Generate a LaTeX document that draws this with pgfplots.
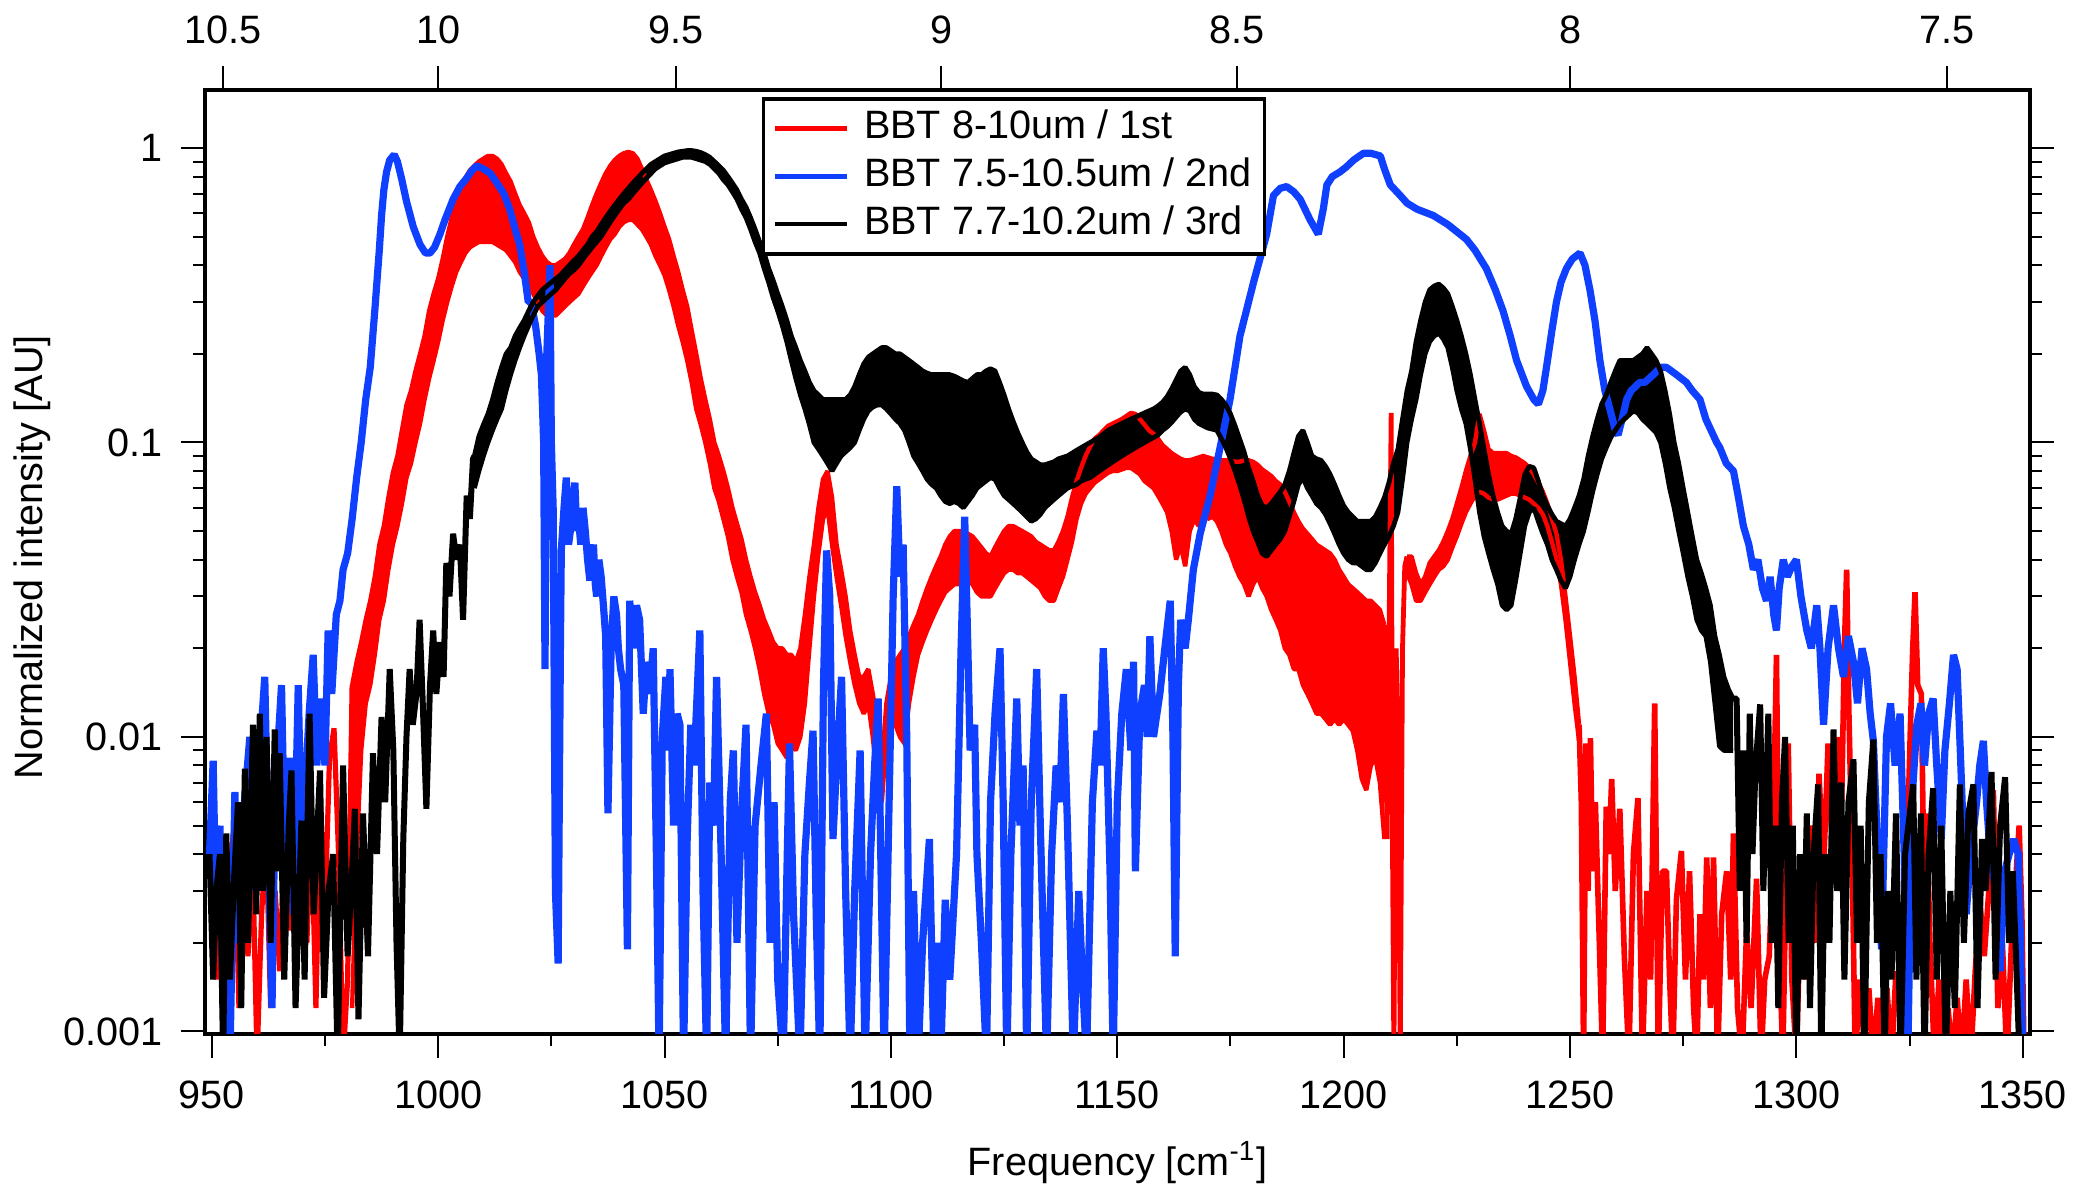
\documentclass[border=0pt]{standalone}
\usepackage{fontspec}
\setmainfont{Liberation Sans}
\usepackage{pgfplots}
\usepackage{pgfplotstable}
\pgfplotsset{compat=1.18}
\usepgfplotslibrary{fillbetween}
\definecolor{igred}{RGB}{255,0,0}
\definecolor{igblue}{RGB}{16,64,255}
\newcommand\fs{\fontsize{9.9bp}{11.5bp}\selectfont}

\pgfplotstableread{
x y
949.5 0.004
950.3 0.0077
951 0.0015
952 0.003
953 0.0008
954 0.0035
955 0.0052
956 0.0012
957 0.003
958 0.0018
959 0.004
960 0.0008
961 0.0025
962 0.0045
963 0.0012
964 0.003
965 0.0016
966 0.004
967 0.0022
968 0.008
969 0.0025
970 0.0078
971 0.002
972 0.005
973 0.0012
974 0.006
975 0.0025
976 0.0085
977 0.0107
978 0.004
979 0.0008
980 0.0015
981 0.015
}\redA

\pgfplotstableread{
x U L
981 0.015 0.0012
982 0.018 0.004
983 0.021 0.009
984 0.025 0.013
985 0.029 0.015
986 0.035 0.019
987 0.045 0.025
988 0.052 0.029
989 0.065 0.037
990 0.079 0.045
991 0.09 0.052
992 0.11 0.062
993 0.134 0.076
994 0.15 0.085
995 0.175 0.1
996 0.2 0.116
997 0.23 0.14
998 0.28 0.165
999 0.32 0.19
1000 0.36 0.22
1001 0.42 0.26
1002 0.5 0.3
1003 0.58 0.34
1004 0.66 0.38
1005 0.74 0.41
1006 0.79 0.44
1007 0.84 0.46
1008 0.87 0.47
1009 0.9 0.48
1010 0.92 0.48
1011 0.94 0.48
1012 0.94 0.48
1013 0.92 0.47
1014 0.88 0.46
1015 0.82 0.45
1016 0.77 0.43
1017 0.7 0.41
1018 0.64 0.38
1019 0.6 0.36
1020 0.56 0.34
1021 0.5 0.32
1022 0.46 0.3
1023 0.43 0.28
1024 0.41 0.27
1025 0.4 0.27
1026 0.4 0.27
1027 0.41 0.28
1028 0.42 0.29
1029 0.44 0.3
1030 0.47 0.31
1031 0.5 0.32
1032 0.53 0.34
1033 0.58 0.36
1034 0.64 0.38
1035 0.7 0.4
1036 0.76 0.43
1037 0.82 0.46
1038 0.87 0.49
1039 0.91 0.51
1040 0.94 0.54
1041 0.96 0.56
1042 0.97 0.57
1043 0.96 0.57
1044 0.92 0.55
1045 0.85 0.53
1046 0.78 0.5
1047 0.72 0.47
1048 0.66 0.43
1049 0.6 0.4
1050 0.54 0.37
1051 0.49 0.33
1052 0.43 0.29
1053 0.38 0.25
1054 0.33 0.22
1055 0.29 0.19
1056 0.24 0.16
1057 0.2 0.13
1058 0.165 0.115
1059 0.14 0.1
1060 0.12 0.085
1061 0.1 0.07
1062 0.09 0.063
1063 0.08 0.055
1064 0.07 0.048
1065 0.06 0.04
1066 0.053 0.035
1067 0.047 0.031
1068 0.04 0.026
1069 0.035 0.023
1070 0.031 0.02
1071 0.028 0.017
1072 0.025 0.014
1073 0.023 0.012
1074 0.021 0.011
1075 0.02 0.0095
1076 0.02 0.009
1077 0.019 0.0085
1078 0.019 0.0095
1079 0.018 0.009
1080 0.02 0.01
1081 0.026 0.013
1082 0.035 0.02
1083 0.045 0.03
1084 0.06 0.042
1085 0.075 0.055
1086 0.08 0.06
1087 0.065 0.045
1088 0.045 0.035
1089 0.037 0.028
1090 0.03 0.022
1091 0.023 0.018
1092 0.019 0.015
1093 0.016 0.013
1094 0.016 0.012
1095 0.017 0.013
1096 0.014 0.01
1097 0.011 0.007
1098 0.008 0.006
1099 0.013 0.01
1100 0.016 0.011
1101 0.018 0.011
1102 0.019 0.010
1103 0.02 0.0095
1104 0.022 0.013
1105 0.024 0.016
1106 0.026 0.019
1107 0.029 0.021
1108 0.032 0.023
1109 0.035 0.025
1110 0.038 0.027
1111 0.041 0.029
1112 0.045 0.031
1113 0.048 0.032
1114 0.05 0.033
1115 0.05 0.033
1116 0.05 0.034
1117 0.049 0.034
1118 0.048 0.033
1119 0.046 0.031
1120 0.044 0.03
1121 0.042 0.03
1122 0.041 0.03
1123 0.044 0.032
1124 0.047 0.034
1125 0.05 0.036
1126 0.052 0.037
1127 0.052 0.037
1128 0.051 0.036
1129 0.05 0.036
1130 0.049 0.035
1131 0.048 0.034
1132 0.046 0.033
1133 0.045 0.032
1134 0.044 0.03
1135 0.043 0.029
1136 0.043 0.029
1137 0.046 0.032
1138 0.05 0.035
1139 0.056 0.04
1140 0.065 0.046
1141 0.074 0.055
1142 0.082 0.062
1143 0.09 0.067
1144 0.097 0.07
1145 0.103 0.073
1146 0.106 0.075
1147 0.11 0.077
1148 0.114 0.079
1149 0.116 0.08
1150 0.118 0.08
1151 0.12 0.081
1152 0.123 0.082
1153 0.126 0.082
1154 0.125 0.08
1155 0.12 0.078
1156 0.115 0.074
1157 0.11 0.072
1158 0.107 0.07
1159 0.103 0.066
1160 0.098 0.062
1161 0.095 0.058
1162 0.092 0.05
1163 0.09 0.04
1164 0.088 0.045
1165 0.087 0.038
1166 0.087 0.05
1167 0.088 0.055
1168 0.089 0.052
1169 0.09 0.058
1170 0.089 0.055
1171 0.088 0.056
1172 0.088 0.054
1173 0.087 0.05
1174 0.087 0.045
1175 0.087 0.042
1176 0.086 0.038
1177 0.086 0.035
1178 0.087 0.033
1179 0.087 0.03
1180 0.086 0.033
1181 0.084 0.035
1182 0.081 0.032
1183 0.079 0.03
1184 0.077 0.027
1185 0.074 0.025
1186 0.072 0.023
1187 0.068 0.02
1188 0.063 0.019
1189 0.058 0.017
1190 0.054 0.017
1191 0.051 0.015
1192 0.049 0.014
1193 0.047 0.013
1194 0.045 0.012
1195 0.044 0.012
1196 0.043 0.0115
1197 0.042 0.011
1198 0.04 0.0115
1199 0.037 0.011
1200 0.035 0.0115
1201 0.033 0.011
1202 0.032 0.0105
1203 0.031 0.009
1204 0.03 0.0072
1205 0.029 0.0066
1206 0.029 0.008
1207 0.028 0.0085
1208 0.027 0.007
1209 0.024 0.0045
}\redbandA

\pgfplotstableread{
x y
1209 0.024
1209.6 0.0045
1210 0.02
1210.5 0.126
1210.8 0.004
1211.1 0.0008
1211.6 0.02
1212.1 0.008
1212.5 0.0008
1213 0.02
1213.5 0.038
1214 0.041
}\redB

\pgfplotstableread{
x U L
1214 0.041 0.036
1215 0.041 0.033
1216 0.036 0.029
1217 0.033 0.029
1218 0.035 0.031
1219 0.039 0.033
1220 0.041 0.035
1221 0.043 0.037
1222 0.046 0.038
1223 0.05 0.04
1224 0.055 0.044
1225 0.062 0.048
1226 0.07 0.053
1227 0.08 0.058
1228 0.09 0.062
1229 0.1 0.066
1230 0.125 0.068
1231 0.11 0.067
1232 0.095 0.065
1233 0.092 0.064
1234 0.092 0.064
1235 0.092 0.065
1236 0.092 0.066
1237 0.09 0.067
1238 0.089 0.067
1239 0.087 0.066
1240 0.085 0.065
1241 0.082 0.064
1242 0.078 0.062
1243 0.073 0.06
1244 0.068 0.057
1245 0.062 0.052
1246 0.055 0.046
1247 0.049 0.04
1248 0.04 0.033
1249 0.03 0.025
1250 0.022 0.018
1251 0.016 0.013
1252 0.011 0.0097
}\redbandB

\pgfplotstableread{
x y
1252 0.011
1252.5 0.006
1253 0.0008
1253.5 0.0095
1254 0.003
1254.5 0.0099
1255 0.0035
1255.6 0.006
1256.3 0.0025
1257.2 0.0008
1258 0.0058
1258.6 0.004
1259.2 0.0072
1260 0.003
1261 0.0057
1262 0.0018
1263 0.0008
1264 0.004
1265 0.0062
1266 0.0008
1267 0.003
1267.8 0.0015
1268.7 0.013
1269.5 0.0008
1270.4 0.0035
1271.3 0.0035
1272 0.0015
1272.7 0.0008
1273.5 0.0028
1274.6 0.0041
1275.5 0.0015
1276.4 0.0035
1277.3 0.0012
1278 0.0008
1278.7 0.0025
1279.5 0.0015
1280.2 0.0039
1281 0.0012
1281.7 0.0039
1282.6 0.0008
1283.5 0.0025
1284.6 0.0035
1285.5 0.0015
1286.1 0.0047
1287 0.0012
1288 0.0008
1289 0.0022
1290 0.0012
1291.2 0.0033
1292.2 0.0008
1293 0.0015
1294 0.0018
1294.8 0.004
1295.6 0.019
1296.2 0.002
1297 0.0008
1298.2 0.0095
1299 0.0015
1300 0.0008
1301 0.003
1302 0.0015
1303 0.005
1304 0.002
1305 0.0075
1306 0.0035
1307 0.0095
1308 0.004
1309 0.01
1310 0.006
1310.6 0.02
1311.1 0.037
1311.6 0.012
1312.3 0.004
1313 0.0008
1314 0.0015
1315 0.0009
1316 0.0014
1317 0.0008
1318 0.0013
1319 0.0008
1320 0.0014
1321 0.0008
1322 0.0016
1323 0.0011
1324 0.0022
1324.6 0.005
1325.2 0.011
1325.7 0.02
1326.2 0.031
1326.8 0.015
1327.6 0.014
1328.2 0.003
1328.8 0.0055
1329.5 0.002
1330.5 0.0008
1331.5 0.0015
1332.5 0.0008
1333.5 0.0012
1334.5 0.0008
1335.5 0.0013
1336.5 0.0008
1337.5 0.0015
1338.5 0.0008
1339.5 0.0016
1340.5 0.0028
1341.5 0.0018
1342.5 0.003
1343.5 0.0066
1344.5 0.0012
1345.5 0.002
1346.5 0.0008
1347.5 0.002
1348.3 0.003
1349.2 0.005
1349.8 0.0025
1350.3 0.0008
}\redC

\pgfplotstableread{
x y
949.5 0.004
950.3 0.0083
951 0.0022
951.8 0.005
952.5 0.0012
953.3 0.0035
954 0.0008
955.1 0.0065
956 0.002
957 0.0055
958.4 0.01
959.2 0.003
960 0.0065
961.7 0.016
962.5 0.004
963.3 0.0012
964 0.0065
965.4 0.015
966.3 0.003
967.2 0.0085
968 0.0025
969.1 0.015
970 0.003
970.8 0.0075
971.5 0.012
972.4 0.019
973.2 0.008
974 0.0135
975 0.008
975.7 0.023
976.5 0.014
977.5 0.026
978.3 0.029
979 0.037
980 0.042
981 0.055
982 0.076
983 0.1
984 0.14
985 0.18
986 0.28
987 0.45
987.5 0.59
988 0.72
988.6 0.83
989.3 0.91
990.3 0.95
991 0.9
991.9 0.79
993 0.66
994.5 0.54
996 0.47
997.2 0.44
998.2 0.44
999.2 0.46
1000.4 0.51
1001.5 0.57
1003.3 0.67
1004.8 0.74
1006.3 0.79
1007.5 0.84
1008.5 0.87
1010 0.85
1011.5 0.82
1013 0.76
1014.5 0.7
1015.8 0.62
1017 0.53
1018 0.47
1019 0.38
1019.9 0.3
1020.5 0.3
1021.5 0.25
1022.3 0.2
1022.8 0.17
1023.3 0.1
1023.6 0.017
1024 0.2
1024.7 0.40
1025 0.1
1025.4 0.06
1025.9 0.003
1026.5 0.0017
1027 0.02
1027.2 0.043
1027.8 0.06
1028.3 0.076
1028.8 0.045
1029.2 0.05
1029.7 0.065
1030.2 0.073
1030.6 0.05
1031 0.055
1031.5 0.045
1032 0.06
1032.5 0.05
1033 0.04
1033.5 0.034
1034 0.042
1034.3 0.045
1034.7 0.033
1035 0.03
1035.5 0.04
1036 0.035
1036.5 0.028
1037 0.022
1037.5 0.0055
1038.2 0.02
1038.8 0.03
1039.4 0.026
1039.8 0.02
1040.3 0.017
1041 0.015
1041.8 0.0019
1042.3 0.029
1042.8 0.024
1043.2 0.02
1043.8 0.028
1044.5 0.025
1045.3 0.012
1046 0.018
1046.7 0.014
1047.5 0.02
1048.2 0.004
1048.8 0.0008
1049.5 0.01
1050.3 0.016
1050.8 0.009
1051.2 0.017
1052 0.005
1052.8 0.012
1053.4 0.011
1054.2 0.0008
1055 0.0045
1055.8 0.011
1056.5 0.008
1057.2 0.014
1057.8 0.023
1058.5 0.003
1059.3 0.0008
1060 0.007
1060.8 0.005
1061.5 0.016
1062.5 0.004
1063.5 0.0008
1064.5 0.006
1065.2 0.009
1066 0.002
1067 0.0055
1068 0.011
1069 0.0008
1070 0.005
1071.3 0.008
1072.5 0.012
1073.3 0.002
1074.2 0.006
1075 0.0015
1076.2 0.0008
1077.6 0.0095
1078.5 0.0025
1079.9 0.0008
1081 0.004
1082 0.007
1082.8 0.0105
1083.5 0.0025
1084.3 0.0008
1085.1 0.015
1085.8 0.043
1086.5 0.03
1087.2 0.0045
1088 0.008
1089.1 0.016
1090 0.003
1091 0.0008
1092 0.003
1093.2 0.009
1094.3 0.0008
1095.5 0.004
1096.4 0.008
1097.2 0.0135
1098.5 0.0008
1099.5 0.005
1100.5 0.03
1101.3 0.071
1102 0.035
1102.7 0.045
1103.5 0.01
1104.2 0.0008
1105 0.003
1106 0.0008
1107 0.002
1108.5 0.0045
1109.5 0.0008
1110.5 0.002
1111 0.0008
1112 0.0028
1113 0.0015
1114.5 0.004
1115.5 0.02
1116.3 0.056
1117 0.02
1117.5 0.009
1118.5 0.011
1119 0.004
1120 0.002
1121.1 0.0008
1122 0.006
1123 0.012
1124.1 0.02
1124.8 0.006
1125.6 0.0008
1126.5 0.004
1127.8 0.0135
1128.5 0.005
1129.2 0.008
1130 0.0008
1131 0.006
1132.2 0.017
1133 0.005
1134.4 0.0008
1135.5 0.004
1136.5 0.008
1137.3 0.006
1138.1 0.014
1139 0.005
1140.3 0.0008
1141.5 0.003
1142.3 0.0015
1143.2 0.0008
1144.5 0.006
1145.5 0.0105
1146.2 0.008
1146.9 0.02
1147.5 0.012
1148.4 0.0035
1149.1 0.0008
1150 0.006
1151 0.012
1152 0.017
1153 0.009
1153.6 0.018
1154 0.0035
1155 0.012
1156 0.015
1156.6 0.01
1157.2 0.022
1158 0.01
1159.4 0.014
1160.5 0.02
1161.7 0.029
1162.3 0.01
1162.8 0.0018
1163.5 0.015
1164 0.025
1165 0.02
1165.7 0.025
1166.8 0.037
1168.3 0.049
1170.5 0.066
1172.7 0.096
1174.9 0.14
1177.1 0.23
1180.1 0.35
1183 0.51
1184.5 0.69
1186 0.73
1187.4 0.74
1189 0.71
1190.4 0.67
1192.6 0.57
1194.4 0.51
1195.5 0.62
1196.3 0.75
1197.5 0.8
1199.2 0.83
1200.5 0.86
1202.2 0.91
1203.5 0.94
1204.4 0.96
1206 0.96
1208.1 0.94
1209 0.85
1210.3 0.75
1212.5 0.69
1214 0.65
1216.2 0.62
1219.8 0.59
1223 0.55
1227.1 0.49
1229 0.45
1231.5 0.39
1233.5 0.33
1235.2 0.28
1236.8 0.23
1238.2 0.19
1240.4 0.155
1242 0.14
1243 0.135
1244 0.15
1244.8 0.18
1246 0.24
1247 0.30
1248 0.35
1249.2 0.39
1250.5 0.42
1252.2 0.44
1253.3 0.4
1254.4 0.33
1255.5 0.26
1256.6 0.19
1257.7 0.15
1258.8 0.13
1260 0.11
1260.6 0.106
1261.5 0.12
1262.5 0.14
1263.5 0.15
1265.4 0.16
1266.5 0.16
1268.4 0.17
1270 0.18
1271.3 0.18
1273.5 0.17
1275.7 0.16
1277 0.15
1278.7 0.14
1280 0.12
1282.4 0.10
1283.1 0.096
1284.5 0.085
1286.1 0.08
1287.2 0.065
1288.3 0.052
1289.5 0.045
1290.5 0.037
1291.5 0.04
1292.5 0.032
1293.4 0.029
1294.2 0.035
1295 0.026
1295.6 0.023
1296.2 0.032
1297.1 0.04
1298 0.035
1299 0.038
1300 0.04
1301 0.03
1302.3 0.023
1303.3 0.02
1304.5 0.028
1305.2 0.02
1306 0.011
1307 0.02
1308.2 0.028
1309.3 0.02
1310.4 0.016
1311.5 0.022
1312.6 0.018
1313.5 0.013
1314.5 0.02
1315.5 0.017
1316.3 0.012
1317 0.0097
1318 0.004
1318.8 0.0019
1319.9 0.01
1320.8 0.013
1321.8 0.008
1322.9 0.012
1323.8 0.004
1324.6 0.0008
1325.5 0.006
1326.6 0.011
1327.5 0.013
1328.3 0.008
1329.2 0.012
1330.2 0.0135
1331 0.008
1332 0.0045
1332.8 0.009
1333.8 0.013
1334.7 0.019
1335.5 0.017
1336.2 0.009
1337.5 0.0025
1338.5 0.004
1339.8 0.006
1340.5 0.008
1341.3 0.0097
1342 0.006
1342.8 0.004
1344 0.003
1345 0.0016
1346 0.0035
1347 0.004
1348 0.0045
1349 0.004
1349.5 0.002
1350 0.0008
}\blue

\pgfplotstableread{
x y
949.5 0.004
950.3 0.0015
951 0.003
951.8 0.004
952.5 0.0008
953.2 0.0047
954 0.0015
955 0.0035
955.8 0.006
956.5 0.0012
957.3 0.0078
958 0.002
959.1 0.011
959.8 0.0025
960.6 0.012
961.3 0.003
962.1 0.01
963 0.002
963.9 0.0106
964.5 0.0035
965 0.0088
966 0.0015
967 0.005
967.6 0.0077
968.5 0.0012
969.8 0.0052
970.5 0.0015
971.6 0.012
972.5 0.0025
973.9 0.0077
974.8 0.0013
975.8 0.003
976.8 0.004
977.8 0.0008
979 0.008
980 0.0018
980.8 0.003
981.6 0.0057
982.4 0.0011
983.4 0.0055
984.5 0.0018
985.6 0.0088
986.5 0.004
987.5 0.0117
988.3 0.006
989.3 0.017
990.1 0.009
990.8 0.002
991.5 0.0008
992.3 0.0045
993 0.01
993.7 0.017
994.4 0.011
995.2 0.014
995.9 0.025
996.6 0.013
997.4 0.0057
998.2 0.015
998.9 0.023
999.6 0.014
1000.4 0.021
1001.2 0.016
1001.8 0.039
1002.5 0.03
1003.3 0.049
1004 0.04
1004.8 0.045
1005.5 0.025
1006.3 0.066
1007 0.055
1007.7 0.088
1008 0.09
}\blackA

\pgfplotstableread{
x U L
1008 0.09 0.07
1009 0.105 0.08
1010 0.115 0.09
1011 0.125 0.1
1012 0.14 0.11
1013 0.16 0.12
1014 0.18 0.13
1015 0.2 0.15
1016 0.21 0.17
1017 0.23 0.19
1018 0.245 0.21
1019 0.26 0.23
1020 0.28 0.25
1021 0.3 0.27
1022 0.315 0.29
1023 0.33 0.3
1024 0.34 0.31
1025 0.35 0.32
1026 0.36 0.33
1027 0.37 0.345
1028 0.385 0.36
1029 0.4 0.375
1030 0.415 0.385
1031 0.43 0.4
1032 0.45 0.42
1033 0.47 0.44
1034 0.5 0.46
1035 0.52 0.48
1036 0.55 0.5
1037 0.58 0.53
1038 0.61 0.56
1039 0.64 0.59
1040 0.67 0.62
1041 0.7 0.65
1042 0.73 0.67
1043 0.76 0.7
1044 0.79 0.73
1045 0.82 0.76
1046 0.85 0.79
1047 0.88 0.82
1048 0.9 0.85
1049 0.92 0.87
1050 0.94 0.89
1051 0.95 0.9
1052 0.96 0.91
1053 0.97 0.92
1054 0.975 0.93
1055 0.98 0.93
1056 0.98 0.93
1057 0.975 0.92
1058 0.965 0.91
1059 0.95 0.9
1060 0.93 0.88
1061 0.9 0.85
1062 0.87 0.82
1063 0.84 0.78
1064 0.8 0.75
1065 0.76 0.71
1066 0.72 0.67
1067 0.67 0.62
1068 0.63 0.58
1069 0.58 0.53
1070 0.53 0.48
1071 0.48 0.44
1072 0.44 0.39
1073 0.39 0.35
1074 0.355 0.31
1075 0.32 0.28
1076 0.29 0.25
1077 0.26 0.22
1078 0.23 0.19
1079 0.21 0.165
1080 0.19 0.145
1081 0.175 0.13
1082 0.16 0.115
1083 0.15 0.1
1084 0.145 0.095
1085 0.14 0.09
1086 0.14 0.085
1087 0.14 0.08
1088 0.14 0.085
1089 0.14 0.09
1090 0.14 0.093
1091 0.145 0.096
1092 0.155 0.1
1093 0.17 0.11
1094 0.185 0.12
1095 0.195 0.128
1096 0.2 0.132
1097 0.205 0.134
1098 0.21 0.134
1099 0.21 0.13
1100 0.205 0.125
1101 0.2 0.12
1102 0.2 0.116
1103 0.195 0.11
1104 0.19 0.1
1105 0.185 0.09
1106 0.18 0.085
1107 0.175 0.08
1108 0.172 0.075
1109 0.17 0.072
1110 0.17 0.07
1111 0.17 0.066
1112 0.17 0.063
1113 0.17 0.062
1114 0.168 0.063
1115 0.165 0.062
1116 0.162 0.06
1117 0.16 0.063
1118 0.165 0.066
1119 0.17 0.07
1120 0.17 0.072
1121 0.175 0.074
1122 0.178 0.076
1123 0.175 0.075
1124 0.16 0.07
1125 0.145 0.066
1126 0.13 0.064
1127 0.118 0.062
1128 0.108 0.06
1129 0.1 0.058
1130 0.093 0.056
1131 0.088 0.054
1132 0.086 0.055
1133 0.084 0.057
1134 0.084 0.06
1135 0.085 0.062
1136 0.086 0.064
1137 0.088 0.066
1138 0.089 0.068
1139 0.09 0.07
1140 0.092 0.071
1141 0.094 0.072
1142 0.096 0.074
1143 0.098 0.075
1144 0.1 0.076
1145 0.102 0.078
1146 0.104 0.08
1147 0.107 0.082
1148 0.11 0.084
1149 0.112 0.086
1150 0.114 0.088
1151 0.116 0.09
1152 0.118 0.092
1153 0.12 0.094
1154 0.122 0.096
1155 0.124 0.098
1156 0.126 0.1
1157 0.128 0.102
1158 0.13 0.104
1159 0.133 0.106
1160 0.137 0.11
1161 0.143 0.113
1162 0.152 0.117
1163 0.163 0.122
1164 0.175 0.127
1165 0.18 0.13
1166 0.17 0.128
1167 0.155 0.12
1168 0.148 0.116
1169 0.146 0.114
1170 0.146 0.112
1171 0.146 0.111
1172 0.145 0.11
1173 0.14 0.103
1174 0.134 0.096
1175 0.125 0.088
1176 0.114 0.08
1177 0.103 0.072
1178 0.093 0.064
1179 0.082 0.056
1180 0.074 0.05
1181 0.066 0.046
1182 0.061 0.042
1183 0.06 0.041
1184 0.062 0.043
1185 0.065 0.045
1186 0.068 0.047
1187 0.072 0.05
1188 0.08 0.056
1189 0.092 0.063
1190 0.105 0.072
1191 0.11 0.076
1192 0.1 0.07
1193 0.09 0.066
1194 0.088 0.062
1195 0.087 0.06
1196 0.083 0.057
1197 0.078 0.053
1198 0.072 0.049
1199 0.066 0.045
1200 0.061 0.042
1201 0.058 0.04
1202 0.056 0.039
1203 0.054 0.039
1204 0.054 0.038
1205 0.054 0.037
1206 0.054 0.037
1207 0.056 0.039
1208 0.06 0.042
1209 0.065 0.045
1210 0.073 0.048
1211 0.085 0.052
1212 0.095 0.058
1213 0.12 0.075
1214 0.15 0.1
1215 0.175 0.12
1216 0.22 0.14
1217 0.26 0.17
1218 0.3 0.2
1219 0.33 0.22
1220 0.34 0.23
1221 0.345 0.235
1222 0.335 0.225
1223 0.32 0.21
1224 0.29 0.18
1225 0.26 0.15
1226 0.23 0.13
1227 0.2 0.116
1228 0.17 0.095
1229 0.14 0.075
1230 0.116 0.058
1231 0.095 0.048
1232 0.078 0.042
1233 0.066 0.037
1234 0.058 0.033
1235 0.052 0.028
1236 0.05 0.027
1237 0.049 0.028
1238 0.055 0.034
1239 0.065 0.042
1240 0.078 0.052
1241 0.083 0.058
1242 0.082 0.06
1243 0.074 0.054
1244 0.066 0.049
1245 0.061 0.045
1246 0.057 0.04
1247 0.054 0.037
1248 0.053 0.034
1249 0.052 0.032
1250 0.055 0.035
1251 0.06 0.04
1252 0.066 0.045
1253 0.075 0.05
1254 0.09 0.058
1255 0.105 0.068
1256 0.12 0.078
1257 0.135 0.088
1258 0.145 0.096
1259 0.16 0.104
1260 0.175 0.11
1261 0.19 0.116
1262 0.19 0.12
1263 0.19 0.124
1264 0.19 0.128
1265 0.195 0.126
1266 0.2 0.12
1267 0.21 0.116
1268 0.2 0.112
1269 0.19 0.108
1270 0.175 0.1
1271 0.15 0.085
1272 0.125 0.07
1273 0.1 0.06
1274 0.085 0.05
1275 0.07 0.042
1276 0.058 0.035
1277 0.048 0.03
1278 0.04 0.025
1279 0.036 0.023
1280 0.032 0.022
1281 0.028 0.018
1282 0.022 0.013
1283 0.019 0.0093
1284 0.016 0.009
1285 0.0145 0.009
1286 0.0135 0.009
}\blackband

\pgfplotstableread{
x y
1286 0.0135
1286.8 0.0135
1287.5 0.003
1288.3 0.009
1289 0.002
1289.7 0.012
1290.3 0.004
1291 0.008
1292 0.0129
1292.7 0.003
1293.8 0.012
1294.5 0.002
1295.3 0.005
1296 0.0012
1296.8 0.006
1297.5 0.01
1298.3 0.002
1299.2 0.005
1300 0.0008
1300.8 0.004
1301.5 0.0015
1302.3 0.0055
1303 0.0012
1303.8 0.004
1304.8 0.0069
1305.5 0.0008
1306.3 0.004
1307.3 0.002
1308.2 0.0106
1309 0.003
1309.9 0.007
1310.6 0.0015
1311.5 0.006
1312.6 0.0084
1313.4 0.002
1314.2 0.005
1315 0.0008
1316 0.006
1317 0.0098
1317.8 0.002
1318.6 0.004
1319.5 0.0008
1320.2 0.003
1321 0.0015
1322 0.0055
1323 0.0008
1324 0.004
1325.8 0.0069
1326.5 0.0015
1327.5 0.0055
1328.3 0.0008
1329.2 0.004
1330.2 0.0067
1331 0.0015
1332 0.005
1333 0.0008
1334 0.003
1335 0.0012
1336.1 0.0069
1337 0.002
1338 0.0055
1339.1 0.0069
1340 0.0012
1341 0.0045
1341.8 0.003
1343.1 0.0076
1344 0.0015
1345 0.005
1346.1 0.0073
1347 0.002
1347.8 0.0035
1348.5 0.0018
1349.3 0.0008
1350 0.0008
}\blackC

\begin{document}
\begin{tikzpicture}
\begin{axis}[
  name=main, at={(0,0)}, anchor=south west,
  scale only axis, width=456.25bp, height=236bp,
  xmin=948.5, xmax=1351.6,
  ymode=log, ymin=0.00098, ymax=1.574,
  xtick={950,1000,1050,1100,1150,1200,1250,1300,1350},
  xticklabels={950,1000,1050,1100,1150,1200,1250,1300,1350},
  minor x tick num=1,
  ytick={0.001,0.01,0.1,1},
  yticklabels={0.001,0.01,0.1,1},
  minor ytick={0.002,0.003,0.004,0.005,0.006,0.007,0.008,0.009,0.02,0.03,0.04,0.05,0.06,0.07,0.08,0.09,0.2,0.3,0.4,0.5,0.6,0.7,0.8,0.9},
  xtick pos=left, ytick pos=both, yticklabel pos=left,
  tick align=outside,
  major tick length=6bp, minor tick length=3bp,
  every tick/.style={black, line width=0.5bp},
  axis line style={line width=0.9bp},
  tick label style={font=\fs},
  xticklabel style={yshift=-2.2bp},
  yticklabel style={xshift=-1.2bp},
  label style={font=\fs},
  xlabel={Frequency [cm\textsuperscript{-1}]},
  ylabel={Normalized intensity [AU]},
  xlabel style={at={(axis description cs:0.5,-0.1494)}, anchor=base},
  ylabel style={at={(axis description cs:-0.0948,0.505)}, anchor=center},
  legend image code/.code={\draw[#1] (0bp,0bp) -- (18bp,0bp);},
  legend cell align=left,
  legend style={at={(axis description cs:0.3051,0.9924)}, anchor=north west,
    draw=black, line width=0.9bp, fill=white, font=\fs,
    inner xsep=2.3bp, inner ysep=1.7bp, row sep=0.55bp, column sep=2.7bp,
    nodes={inner sep=1bp, text height=7.2bp, text depth=2.2bp}},
  every axis plot/.append style={line join=bevel},
]
% red series
\addplot[igred, line width=1.3bp, forget plot] table {\redA};
\addplot[igred, line width=1.1bp, name path=ru1, forget plot] table[x=x,y=U] {\redbandA};
\addplot[igred, line width=1.1bp, name path=rl1, forget plot] table[x=x,y=L] {\redbandA};
\addplot[fill=igred, draw=none, forget plot] fill between[of=ru1 and rl1];
\addplot[igred, line width=1.2bp, forget plot] table {\redB};
\addplot[igred, line width=1.1bp, name path=ru2, forget plot] table[x=x,y=U] {\redbandB};
\addplot[igred, line width=1.1bp, name path=rl2, forget plot] table[x=x,y=L] {\redbandB};
\addplot[fill=igred, draw=none, forget plot] fill between[of=ru2 and rl2];
\addplot[igred, line width=1.4bp, forget plot] table {\redC};
% blue series
\addplot[igblue, line width=1.8bp, forget plot] table {\blue};
% black series
\addplot[black, line width=1.5bp, forget plot] table {\blackA};
\addplot[black, line width=1.2bp, name path=ku, forget plot] table[x=x,y=U] {\blackband};
\addplot[black, line width=1.2bp, name path=kl, forget plot] table[x=x,y=L] {\blackband};
\addplot[fill=black, draw=none, forget plot] fill between[of=ku and kl];
\addplot[black, line width=1.5bp, forget plot] table {\blackC};
% legend
\addlegendimage{igred, line width=1.1bp}
\addlegendentry{BBT 8-10um / 1st}
\addlegendimage{igblue, line width=1.1bp}
\addlegendentry{BBT 7.5-10.5um / 2nd}
\addlegendimage{black, line width=1.1bp}
\addlegendentry{BBT 7.7-10.2um / 3rd}
\end{axis}
\begin{axis}[
  at={(0,0)}, anchor=south west,
  scale only axis, width=456.25bp, height=236bp,
  xmin=948.5, xmax=1351.6, ymin=0, ymax=1,
  axis x line*=top, axis y line=none,
  axis line style={-, line width=0.9bp},
  xtick={952.381,1000,1052.632,1111.111,1176.471,1250,1333.333},
  xticklabels={10.5,10,9.5,9,8.5,8,7.5},
  tick align=outside, major tick length=6bp,
  every tick/.style={black, line width=0.5bp},
  minor x tick num=0,
  tick label style={font=\fs},
  xticklabel style={yshift=2bp},
]
\end{axis}
\pgfresetboundingbox
\path[use as bounding box] (-51.25bp,-37.5bp) rectangle (467.75bp,258.5bp);
\end{tikzpicture}
\end{document}
